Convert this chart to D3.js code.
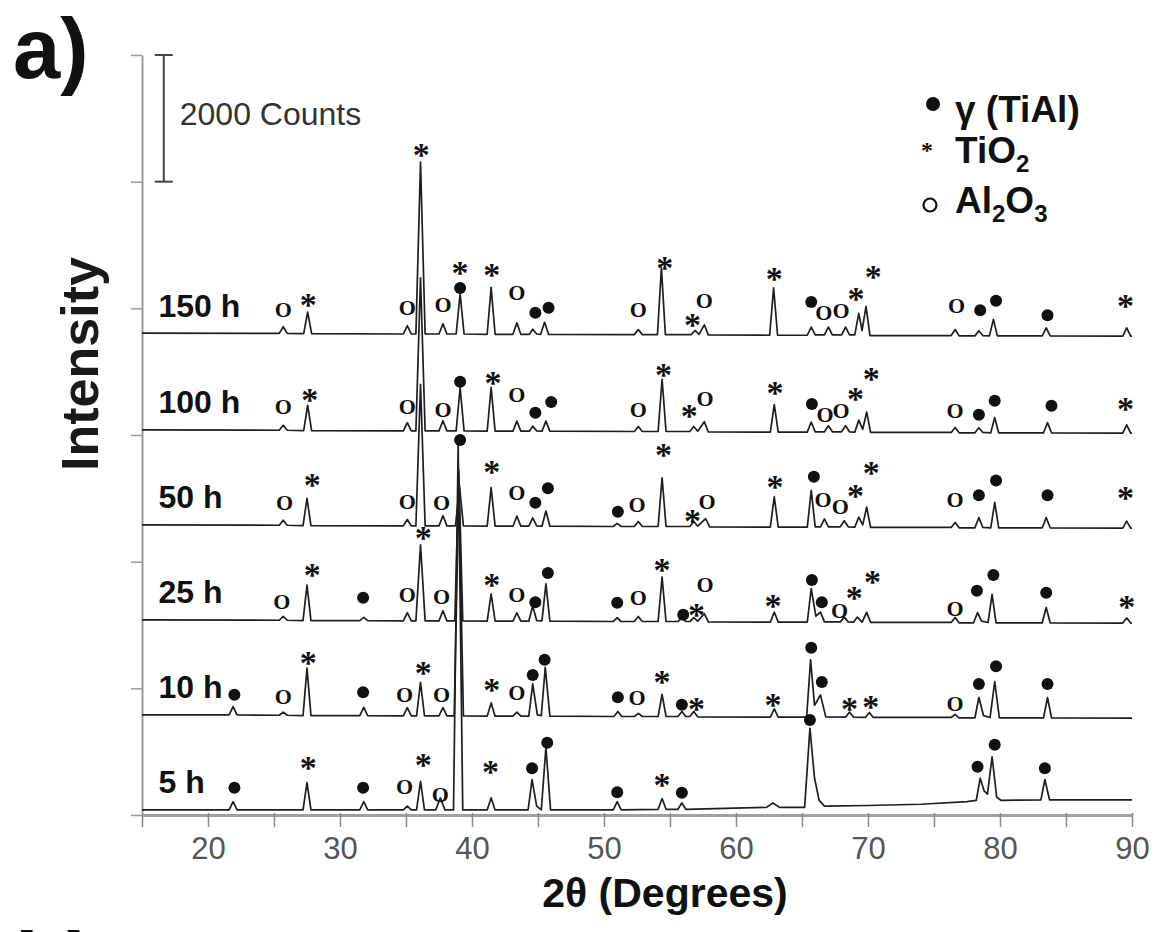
<!DOCTYPE html>
<html><head><meta charset="utf-8">
<script src="https://cdn.jsdelivr.net/npm/d3@7"></script>
<style>body{margin:0;background:#fff;overflow:hidden}</style>
</head><body>
<svg id="c" width="1160" height="932"></svg>
<script>
// ---------------- DATA ----------------
const sampleLabels = ["5 h", "10 h", "25 h", "50 h", "100 h", "150 h"];
const offsets = [80, 1580, 3080, 4580, 6080, 7610];          // vertical stacking offset (counts)
const xTickValues = [15,20,25,30,35,40,45,50,55,60,65,70,75,80,85,90];
const xTickLabels = [20,30,40,50,60,70,80,90];
const yTickValues = [0,2000,4000,6000,8000,10000,12000];
const scaleBarCounts = [10000, 12000];                         // "2000 Counts" bar
const legendItems = [["g", "γ (TiAl)"], ["t", "TiO", "2"], ["a", "Al", "2", "O", "3"]];

// intensity patterns: [2θ, counts above the sample offset]
const pattern5h = [[15,0],[21.6,0],[21.9,130],[22.2,0],[27.2,0],[27.5,430],[27.8,0],[31.5,0],[31.8,130],[32.1,0],[34.8,0],[35.1,60],[35.4,0],[35.8,0],[36.1,450],[36.4,0],[37.25,0],[37.6,190],[37.95,0],[38.6,0],[38.95,5770],[39.3,0],[41.15,0],[41.45,190],[41.75,0],[44.25,0],[44.55,480],[44.9,60],[45.25,0],[45.6,990],[45.95,0],[50.7,0],[51.0,130],[51.3,0],[54.1,10],[54.4,180],[54.7,10],[55.6,10],[55.9,110],[56.2,10],[62.3,40],[62.8,110],[63.3,40],[65.2,40],[65.6,1290],[65.95,500],[66.3,150],[66.7,60],[70,70],[74,90],[77.5,130],[78.2,150],[78.5,500],[78.8,300],[79.05,250],[79.4,840],[79.75,200],[80.1,150],[83.1,160],[83.4,480],[83.75,160],[90,160]];
const pattern10h = [[15,0],[21.6,0],[21.9,130],[22.2,0],[25.4,-5],[25.7,45],[26.0,-5],[27.2,-10],[27.5,740],[27.8,-10],[31.5,-10],[31.8,120],[32.1,-10],[34.8,-15],[35.1,115],[35.4,-15],[35.8,-15],[36.1,515],[36.4,-15],[37.5,-15],[37.8,115],[38.1,-15],[38.65,-15],[39.0,3600],[39.35,-15],[41.15,-20],[41.45,190],[41.75,-20],[43.1,-20],[43.4,45],[43.7,-20],[44.3,-20],[44.6,490],[44.95,0],[45.25,-10],[45.55,750],[45.9,-20],[50.75,-25],[51.05,55],[51.35,-25],[52.3,-25],[52.6,25],[52.9,-25],[54.1,-25],[54.4,325],[54.7,-25],[55.6,-25],[55.9,55],[56.2,-25],[56.5,-25],[56.8,55],[57.1,-30],[62.6,-35],[62.9,95],[63.2,-35],[65.35,-35],[65.65,870],[65.95,150],[66.4,315],[66.8,-30],[68.3,-35],[68.6,45],[68.9,-35],[69.8,-40],[70.1,40],[70.4,-40],[76.3,-40],[76.6,10],[76.9,-45],[78.1,-45],[78.4,275],[78.75,-10],[79.25,-40],[79.6,525],[79.95,-45],[83.3,-45],[83.6,275],[83.9,-45],[90,-50]];
const pattern25h = [[15,0],[25.4,-5],[25.7,55],[26.0,-5],[27.2,-10],[27.5,550],[27.8,-10],[31.5,-10],[31.8,40],[32.1,-10],[34.8,-15],[35.1,115],[35.4,-15],[35.75,-15],[36.1,1185],[36.45,-15],[37.5,-15],[37.8,145],[38.1,-15],[38.7,-15],[39.0,2360],[39.3,-15],[41.15,-20],[41.45,410],[41.75,-20],[43.1,-20],[43.4,110],[43.7,-20],[44.3,-20],[44.6,220],[44.9,-10],[45.3,-15],[45.6,570],[45.9,-20],[50.7,-25],[51.0,35],[51.3,-25],[52.3,-25],[52.6,55],[52.9,-25],[54.1,-25],[54.4,675],[54.7,-25],[55.6,-25],[55.9,35],[56.2,-25],[56.5,-25],[56.8,35],[57.1,-20],[57.6,100],[57.9,-30],[62.6,-35],[62.9,125],[63.2,-35],[65.4,-35],[65.7,495],[66.05,60],[66.4,125],[66.7,-30],[67.9,-30],[68.2,45],[68.5,-30],[68.9,-35],[69.2,45],[69.55,-35],[69.9,120],[70.2,-40],[76.3,-40],[76.6,40],[76.9,-45],[78.0,-45],[78.3,115],[78.6,-20],[79.1,-40],[79.4,405],[79.7,-45],[83.2,-45],[83.5,195],[83.8,-45],[89.3,-50],[89.6,30],[89.9,-50],[90,-50]];
const pattern50h = [[15,0],[25.4,-5],[25.7,75],[26.0,-5],[27.2,-10],[27.5,420],[27.8,-10],[34.8,-15],[35.1,85],[35.4,-15],[35.75,-15],[36.1,2220],[36.45,-15],[37.5,-15],[37.8,145],[38.1,-15],[38.75,-15],[39.05,620],[39.35,-15],[41.15,-20],[41.45,590],[41.75,-20],[43.1,-20],[43.4,140],[43.7,-20],[44.3,-20],[44.6,110],[44.9,-15],[45.3,-20],[45.6,220],[45.9,-20],[50.7,-25],[51.0,25],[51.3,-25],[52.3,-25],[52.6,55],[52.9,-25],[54.1,-25],[54.4,745],[54.7,-25],[56.5,-25],[56.8,55],[57.1,-20],[57.7,100],[58.0,-30],[62.6,-35],[62.9,445],[63.2,-35],[65.4,-35],[65.7,545],[66.0,-30],[66.4,-30],[66.7,95],[67.0,-30],[67.9,-30],[68.2,65],[68.5,-30],[69.0,-35],[69.3,125],[69.6,0],[69.9,280],[70.2,-40],[76.3,-40],[76.6,40],[76.9,-45],[78.1,-45],[78.4,115],[78.7,-40],[79.3,-45],[79.6,355],[79.9,-45],[83.2,-45],[83.5,115],[83.8,-45],[89.3,-50],[89.6,60],[89.9,-50],[90,-50]];
const pattern100h = [[15,0],[25.4,-5],[25.7,75],[26.0,-5],[27.25,-10],[27.55,390],[27.85,-10],[34.8,-15],[35.1,115],[35.4,-15],[35.75,-15],[36.1,2400],[36.45,-15],[37.5,-15],[37.8,145],[38.1,-15],[38.8,-15],[39.1,670],[39.4,-15],[41.15,-20],[41.45,670],[41.75,-20],[43.1,-20],[43.4,140],[43.7,-20],[44.35,-20],[44.6,60],[44.9,-15],[45.3,-20],[45.6,140],[45.9,-20],[52.3,-25],[52.6,55],[52.9,-25],[54.1,-25],[54.4,800],[54.7,-25],[56.5,-25],[56.8,55],[57.1,-20],[57.6,130],[57.9,-30],[62.6,-35],[62.9,400],[63.2,-35],[65.4,-35],[65.7,125],[66.0,-30],[66.7,-30],[67.0,65],[67.3,-30],[68.0,-30],[68.3,65],[68.6,-30],[69.0,-35],[69.3,155],[69.6,10],[69.9,280],[70.2,-40],[76.3,-40],[76.6,40],[76.9,-45],[78.1,-45],[78.4,35],[78.7,-40],[79.3,-45],[79.6,195],[79.9,-45],[83.3,-45],[83.6,115],[83.9,-45],[89.3,-50],[89.6,80],[89.9,-50],[90,-50]];
const pattern150h = [[15,0],[25.4,-5],[25.7,100],[26.0,-5],[27.25,-10],[27.55,330],[27.85,-10],[34.8,-15],[35.1,115],[35.4,-15],[35.75,-15],[36.1,2700],[36.45,-15],[37.5,-15],[37.8,145],[38.1,-15],[38.8,-15],[39.1,620],[39.4,-15],[41.15,-20],[41.45,720],[41.75,-20],[43.1,-20],[43.4,160],[43.7,-20],[44.35,-20],[44.6,60],[44.9,-15],[45.2,-20],[45.5,170],[45.8,-20],[52.3,-25],[52.6,55],[52.9,-25],[54.05,-25],[54.35,1030],[54.65,-25],[56.6,-25],[56.9,40],[57.2,-20],[57.6,130],[57.9,-30],[62.55,-35],[62.85,715],[63.15,-35],[65.4,-35],[65.7,95],[66.0,-30],[66.7,-30],[67.0,95],[67.3,-30],[68.0,-30],[68.3,95],[68.6,-30],[69.0,-30],[69.3,310],[69.55,40],[69.85,420],[70.15,-40],[76.3,-40],[76.6,55],[76.9,-45],[78.1,-45],[78.4,35],[78.7,-40],[79.2,-45],[79.5,215],[79.8,-45],[83.2,-45],[83.5,80],[83.8,-45],[89.3,-50],[89.6,80],[89.9,-50],[90,-50]];

// phase marks: [2θ, phase (g = γ-TiAl, t = TiO2, a = Al2O3), counts above offset]
const marks5h = [[22.0,"g",350],[27.6,"t",740],[31.75,"g",350],[34.9,"a",360],[36.3,"t",790],[37.6,"a",240],[39.1,"g",5840],[41.4,"t",680],[44.55,"g",660],[45.7,"g",1060],[51.0,"g",280],[54.4,"t",470],[55.9,"g",270],[65.6,"g",1420],[78.3,"g",680],[79.6,"g",1030],[83.4,"g",660]];
const marks10h = [[22.0,"g",320],[25.7,"a",280],[27.6,"t",900],[31.75,"g",360],[34.9,"a",320],[36.3,"t",740],[37.7,"a",320],[41.5,"t",470],[43.4,"a",350],[44.6,"g",630],[45.5,"g",870],[51.05,"g",280],[52.5,"a",270],[54.4,"t",600],[55.9,"g",160],[57.0,"t",170],[62.8,"t",240],[65.7,"g",1060],[66.5,"g",520],[68.6,"t",170],[70.2,"t",200],[76.6,"a",170],[78.4,"g",490],[79.7,"g",770],[83.6,"g",490]];
const marks25h = [[25.6,"a",280],[27.9,"t",790],[31.75,"g",350],[35.1,"a",400],[36.3,"t",1370],[37.7,"a",360],[41.5,"t",630],[43.4,"a",400],[44.8,"g",280],[45.75,"g",740],[51.0,"g",270],[52.6,"a",350],[54.4,"t",870],[56.0,"g",80],[57.0,"t",160],[57.65,"a",550],[62.8,"t",300],[65.75,"g",630],[66.5,"g",280],[67.85,"a",140],[68.95,"t",430],[70.35,"t",680],[76.6,"a",170],[78.25,"g",460],[79.5,"g",710],[83.5,"g",430],[89.6,"t",280]];
const marks50h = [[25.8,"a",350],[27.9,"t",710],[35.1,"a",360],[37.7,"a",350],[41.5,"t",920],[43.4,"a",510],[44.8,"g",350],[45.75,"g",580],[51.05,"g",210],[52.5,"a",320],[54.5,"t",1190],[56.7,"t",140],[57.8,"a",360],[62.95,"t",680],[65.9,"g",760],[66.6,"a",400],[67.9,"a",280],[69.05,"t",540],[70.25,"t",900],[76.6,"a",400],[78.4,"g",470],[79.7,"g",700],[83.6,"g",470],[89.5,"t",510]];
const marks100h = [[25.7,"a",360],[27.7,"t",550],[35.1,"a",360],[37.8,"a",320],[39.1,"g",760],[41.6,"t",820],[43.4,"a",550],[44.8,"g",270],[46.0,"g",440],[52.6,"a",320],[54.5,"t",950],[56.45,"t",300],[57.65,"a",490],[62.95,"t",660],[65.75,"g",410],[66.75,"a",240],[67.95,"a",300],[69.05,"t",570],[70.25,"t",880],[76.6,"a",300],[78.4,"g",240],[79.6,"g",460],[83.9,"g",380],[89.5,"t",410]];
const marks150h = [[25.7,"a",360],[27.6,"t",520],[35.1,"a",400],[36.15,"t",2890],[37.8,"a",440],[39.1,"g",710],[39.1,"t",1030],[41.5,"t",1000],[43.4,"a",630],[44.8,"g",320],[45.8,"g",400],[52.6,"a",360],[54.6,"t",1110],[56.7,"t",210],[57.6,"a",510],[62.9,"t",930],[65.7,"g",490],[66.65,"a",320],[67.95,"a",350],[69.1,"t",620],[70.4,"t",960],[76.7,"a",430],[78.5,"g",360],[79.7,"g",510],[83.6,"g",280],[89.5,"t",510]];

const patterns = [pattern5h, pattern10h, pattern25h, pattern50h, pattern100h, pattern150h];
const marks = [marks5h, marks10h, marks25h, marks50h, marks100h, marks150h];

// ---------------- DRAW ----------------
const svg = d3.select("#c");
const SANS = "'Liberation Sans', Arial, sans-serif";
const SERIF = "'Liberation Serif', 'Times New Roman', serif";
const x = d3.scaleLinear().domain([15, 90]).range([142, 1132]);
const y = d3.scaleLinear().domain([0, 12000]).range([815, 55]);

svg.append("rect").attr("width", 1160).attr("height", 932).attr("fill", "#fff");

// x axis
const xAxis = d3.axisBottom(x).tickValues(xTickValues).tickSizeInner(12).tickSizeOuter(0).tickPadding(10)
  .tickFormat(d => xTickLabels.includes(d) ? d : "");
const gx = svg.append("g").attr("transform", `translate(0,${y(0)})`).call(xAxis);
gx.select(".domain").attr("stroke", "#a0a0a0").attr("stroke-width", 3);
gx.selectAll(".tick line").attr("stroke", "#8a8a8a").attr("stroke-width", 1.5).attr("y1", -2);
gx.selectAll(".tick text").attr("font-family", SANS).attr("font-size", 31).attr("fill", "#555");

// y axis
const yAxis = d3.axisLeft(y).tickValues(yTickValues).tickSizeInner(11).tickSizeOuter(0).tickFormat("");
const gy = svg.append("g").attr("transform", `translate(${x(15)},0)`).call(yAxis);
gy.select(".domain").attr("stroke", "#999").attr("stroke-width", 2);
gy.selectAll(".tick line").attr("stroke", "#999").attr("stroke-width", 1.5);

// scale bar
const sbx = x(16.65);
const sb = svg.append("g").attr("stroke", "#444").attr("stroke-width", 2);
sb.append("line").attr("x1", sbx).attr("x2", sbx).attr("y1", y(scaleBarCounts[0])).attr("y2", y(scaleBarCounts[1]));
scaleBarCounts.forEach(c => sb.append("line").attr("x1", sbx - 9).attr("x2", sbx + 9).attr("y1", y(c)).attr("y2", y(c)));
svg.append("text").attr("x", sbx + 16).attr("y", y(10900)).attr("font-family", SANS).attr("font-size", 32)
  .attr("fill", "#333").text((scaleBarCounts[1] - scaleBarCounts[0]) + " Counts");

// traces
const line = d3.line();
patterns.forEach((p, i) => {
  line.x(d => x(d[0])).y(d => y(d[1] + offsets[i]));
  svg.append("path").datum(p).attr("d", line).attr("fill", "none")
    .attr("stroke", "#1e1e1e").attr("stroke-width", 1.7).attr("stroke-linejoin", "round");
});

// sample labels
sampleLabels.forEach((s, i) => {
  svg.append("text").attr("x", x(16.25)).attr("y", y(offsets[i] + 260))
    .attr("font-family", SANS).attr("font-weight", "bold").attr("font-size", 32).attr("fill", "#111").text(s);
});

// phase marks
function mark(g, type, cx, cy, scale) {
  scale = scale || 1;
  if (type === "g") {
    g.append("circle").attr("cx", cx).attr("cy", cy).attr("r", 6 * scale).attr("fill", "#111");
  } else if (type === "t") {
    const fs = 34 * scale;
    g.append("text").attr("x", cx).attr("y", cy + 0.47 * fs).attr("text-anchor", "middle")
      .attr("font-family", SERIF).attr("font-weight", "bold").attr("font-size", fs).attr("fill", "#111").text("*");
  } else {
    const fs = 22 * scale;
    g.append("text").attr("x", cx).attr("y", cy + 0.33 * fs).attr("text-anchor", "middle")
      .attr("font-family", SERIF).attr("font-weight", "bold").attr("font-size", fs).attr("fill", "#111").text("O");
  }
}
const gm = svg.append("g");
marks.forEach((ms, i) => ms.forEach(m => mark(gm, m[1], x(m[0]), y(m[2] + offsets[i]))));

// legend
const lg = svg.append("g");
const lx = 933, ly = [104, 147, 205], tb = [122, 163, 213];
lg.append("circle").attr("cx", lx).attr("cy", ly[0]).attr("r", 7).attr("fill", "#111");
lg.append("text").attr("x", lx - 6).attr("y", ly[1] + 11).attr("text-anchor", "middle").attr("font-family", SERIF)
  .attr("font-weight", "bold").attr("font-size", 24).attr("fill", "#111").text("*");
lg.append("circle").attr("cx", lx - 3).attr("cy", ly[2]).attr("r", 6.5).attr("fill", "none").attr("stroke", "#111").attr("stroke-width", 2.2);
legendItems.forEach((it, i) => {
  const t = lg.append("text").attr("x", 955).attr("y", tb[i]).attr("font-family", SANS).attr("font-weight", "bold")
    .attr("font-size", 37).attr("fill", "#111");
  it.slice(1).forEach((s, k) => {
    const sub = k % 2 === 1;
    t.append("tspan").attr("font-size", sub ? 24 : 37).attr("dy", sub ? 9 : (k > 0 ? -9 : 0)).text(s);
  });
});

// titles
svg.append("text").attr("x", 13).attr("y", 78).attr("font-family", SANS).attr("font-weight", "bold")
  .attr("font-size", 85).attr("fill", "#111").text("a)");
svg.append("text").attr("x", 15).attr("y", 992).attr("font-family", SANS).attr("font-weight", "bold")
  .attr("font-size", 85).attr("fill", "#111").text("b)");
svg.append("text").attr("transform", "translate(98,364) rotate(-90)").attr("text-anchor", "middle")
  .attr("font-family", SANS).attr("font-weight", "bold").attr("font-size", 52).attr("fill", "#1a1a1a").text("Intensity");
svg.append("text").attr("x", 665).attr("y", 907).attr("text-anchor", "middle")
  .attr("font-family", SANS).attr("font-weight", "bold").attr("font-size", 41).attr("fill", "#111").text("2θ (Degrees)");
</script>
</body></html>
